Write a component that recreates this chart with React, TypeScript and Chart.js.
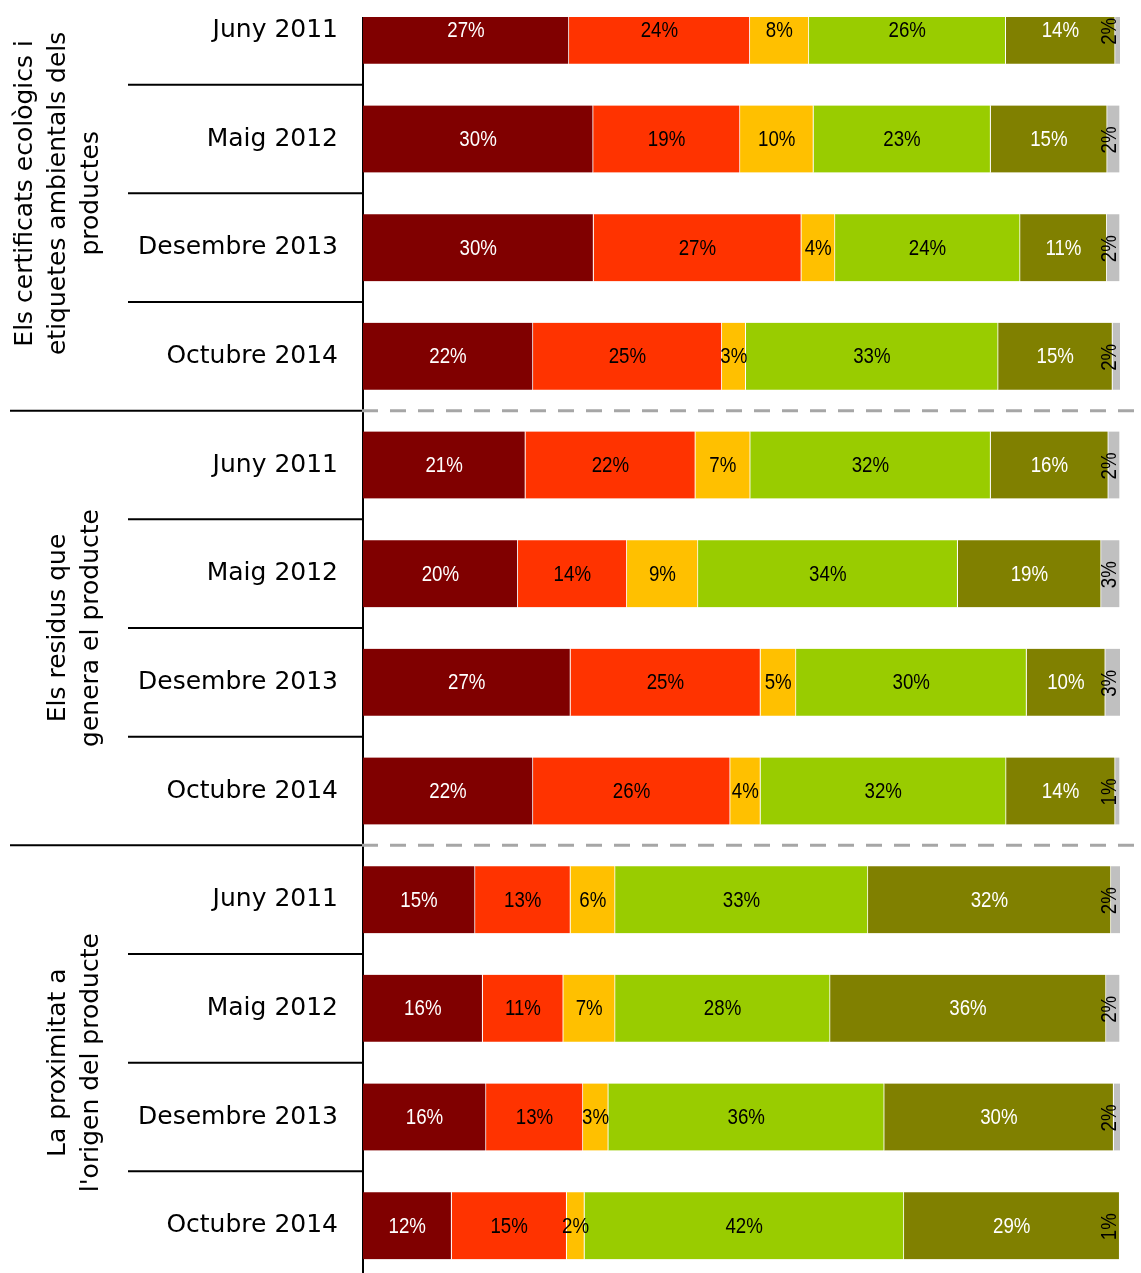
import React, { useEffect, useRef } from "react";
import { Chart, registerables } from "chart.js";

Chart.register(...registerables);

// ---- data ----
const periods = ["Juny 2011", "Maig 2012", "Desembre 2013", "Octubre 2014"];
const groupTitles = [
  ["Els certificats ecològics i", "etiquetes ambientals dels", "productes"],
  ["Els residus que", "genera el producte"],
  ["La proximitat a", "l'origen del producte"],
];
const categories = groupTitles.flatMap((_, g) => periods.map((p) => `${g}|${p}`));

const seriesNames = ["Sèrie 1", "Sèrie 2", "Sèrie 3", "Sèrie 4", "Sèrie 5", "Sèrie 6"];
const series1 = [27.2, 30.4, 30.45, 22.45, 21.45, 20.45, 27.4, 22.45, 14.8, 15.8, 16.25, 11.7];
const series2 = [23.9, 19.4, 27.45, 24.95, 22.45, 14.4, 25.1, 26.05, 12.6, 10.65, 12.8, 15.2];
const series3 = [7.8, 9.7, 4.45, 3.15, 7.25, 9.4, 4.7, 4.0, 5.9, 6.85, 3.35, 2.35];
const series4 = [26.0, 23.4, 24.45, 33.35, 31.75, 34.3, 30.45, 32.45, 33.4, 28.4, 36.45, 42.2];
const series5 = [14.45, 15.4, 11.45, 15.1, 15.55, 18.95, 10.4, 14.4, 32.1, 36.45, 30.3, 28.5];
const series6 = [1.6, 1.7, 1.75, 1.6, 1.55, 2.5, 2.5, 0.65, 1.6, 1.85, 1.6, 0.8];
const allSeries = [series1, series2, series3, series4, series5, series6];

const colors = ["#800000", "#FF3300", "#FFC000", "#99CC00", "#808000", "#C0C0C0"];
const labelColors = ["#FFFFFF", "#000000", "#000000", "#000000", "#FFFFFF", "#000000"];

const CANVAS_SHIFT = 24; // canvas is shifted up by this many px
const CLIP_TOP = 41; // bars hidden above this canvas y
const LABEL_FONT = '22px "Liberation Sans", Arial, sans-serif';
const LABEL_SQUEEZE = 0.85;
const CAT_FONT = '25px "DejaVu Sans", sans-serif';

const decorPlugin = {
  id: "decor",
  beforeDatasetsDraw(chart: any) {
    const ctx = chart.ctx;
    const area = chart.chartArea;
    const y = chart.scales.y;
    ctx.save();
    // axis line
    ctx.strokeStyle = "#000";
    ctx.lineWidth = 2;
    ctx.beginPath();
    ctx.moveTo(area.left, area.top + CLIP_TOP);
    ctx.lineTo(area.left, area.bottom);
    ctx.stroke();
    // separators
    const n = categories.length;
    for (let i = 1; i < n; i++) {
      const yy = (y.getPixelForValue(i - 1) + y.getPixelForValue(i)) / 2;
      const isGroup = i % periods.length === 0;
      ctx.strokeStyle = "#000";
      ctx.lineWidth = 2;
      ctx.setLineDash([]);
      ctx.beginPath();
      ctx.moveTo(isGroup ? 10 : 128, yy);
      ctx.lineTo(area.left, yy);
      ctx.stroke();
    }
    // category labels
    ctx.font = CAT_FONT;
    ctx.fillStyle = "#000";
    ctx.textAlign = "right";
    ctx.textBaseline = "middle";
    categories.forEach((c, i) => {
      ctx.fillText(c.split("|")[1], 338, y.getPixelForValue(i));
    });
    // group titles (rotated)
    groupTitles.forEach((lines, g) => {
      const first = g * periods.length;
      const last = first + periods.length - 1;
      const cy = (y.getPixelForValue(first) + y.getPixelForValue(last)) / 2;
      lines.forEach((line, li) => {
        const cx = 91.5 - (lines.length - 1 - li) * 33;
        ctx.save();
        ctx.translate(cx, cy);
        ctx.rotate(-Math.PI / 2);
        ctx.textAlign = "center";
        ctx.textBaseline = "middle";
        ctx.fillText(line, 0, 0);
        ctx.restore();
      });
    });
    ctx.restore();
  },
  afterDatasetsDraw(chart: any) {
    const ctx = chart.ctx;
    const area = chart.chartArea;
    const y = chart.scales.y;
    ctx.save();
    // dashed group separators
    for (let i = periods.length; i < categories.length; i += periods.length) {
      const yy = (y.getPixelForValue(i - 1) + y.getPixelForValue(i)) / 2;
      ctx.strokeStyle = "#A6A6A6";
      ctx.lineWidth = 3;
      ctx.setLineDash([16, 12]);
      ctx.beginPath();
      ctx.moveTo(area.left - 1, yy);
      ctx.lineTo(1135, yy);
      ctx.stroke();
    }
    ctx.setLineDash([]);
    // data labels
    ctx.font = LABEL_FONT;
    ctx.textAlign = "center";
    ctx.textBaseline = "middle";
    const lastDs = chart.data.datasets.length - 1;
    chart.data.datasets.forEach((ds: any, di: number) => {
      const meta = chart.getDatasetMeta(di);
      meta.data.forEach((bar: any, i: number) => {
        const p = bar.getProps(["x", "base", "y"], true);
        const txt = Math.round(ds.data[i]) + "%";
        ctx.fillStyle = labelColors[di];
        const cx = (p.x + p.base) / 2;
        ctx.save();
        if (di === lastDs) {
          ctx.translate(Math.min(cx, area.right - 10), p.y + 1);
          ctx.rotate(-Math.PI / 2);
        } else {
          ctx.translate(cx, p.y + 1);
        }
        ctx.scale(LABEL_SQUEEZE, 1);
        ctx.fillText(txt, 0, 0);
        ctx.restore();
      });
    });
    ctx.restore();
  },
};

export default function App() {
  const ref = useRef<HTMLCanvasElement | null>(null);
  useEffect(() => {
    if (!ref.current) return;
    const chart = new Chart(ref.current, {
      type: "bar",
      data: {
        labels: categories,
        datasets: allSeries.map((s, i) => ({
          label: seriesNames[i],
          data: s,
          backgroundColor: colors[i],
          borderColor: "#FFFFFF",
          borderWidth: { top: 0, right: 1, bottom: 0, left: 0 },
          borderSkipped: false,
          barThickness: 67,
          clip: { left: 0, right: 0, top: -CLIP_TOP, bottom: 0 },
        })),
      },
      options: {
        indexAxis: "y",
        animation: false,
        responsive: true,
        maintainAspectRatio: false,
        layout: { padding: { left: 363, right: 21, top: 0, bottom: 0 } },
        plugins: { legend: { display: false }, tooltip: { enabled: false } },
        scales: {
          x: { type: "linear", stacked: true, min: 0, max: 100, display: false },
          y: { type: "category", stacked: true, display: false, offset: true },
        },
      } as any,
      plugins: [decorPlugin],
    } as any);
    return () => chart.destroy();
  }, []);
  return (
    <div
      style={{
        position: "fixed",
        left: 0,
        top: 0,
        width: 1141,
        height: 1273,
        overflow: "hidden",
        background: "#fff",
      }}
    >
      <div style={{ position: "absolute", left: 0, top: -CANVAS_SHIFT, width: 1141, height: 1304 }}>
        <canvas ref={ref} />
      </div>
    </div>
  );
}
